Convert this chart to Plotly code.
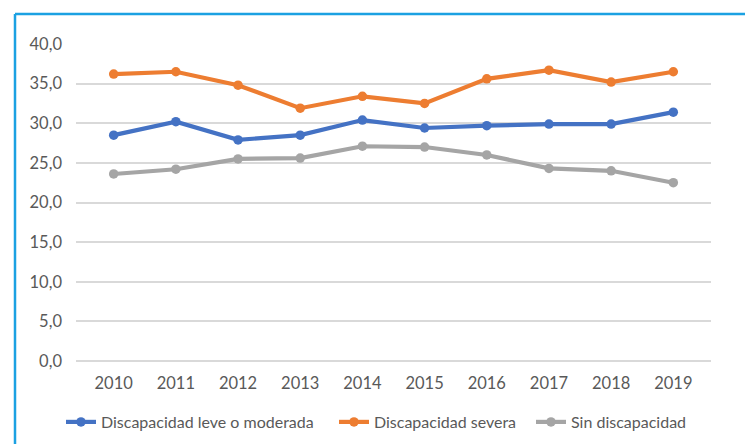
import plotly.graph_objects as go

years = ["2010", "2011", "2012", "2013", "2014", "2015", "2016", "2017", "2018", "2019"]
leve_moderada = [28.5, 30.2, 27.9, 28.5, 30.4, 29.4, 29.7, 29.9, 29.9, 31.4]
severa = [36.2, 36.5, 34.8, 31.9, 33.4, 32.5, 35.6, 36.7, 35.2, 36.5]
sin_discapacidad = [23.6, 24.2, 25.5, 25.6, 27.1, 27.0, 26.0, 24.3, 24.0, 22.5]

series_names = ["Discapacidad leve o moderada", "Discapacidad severa", "Sin discapacidad"]
colors = ["#4472C4", "#ED7D31", "#A5A5A5"]
y_ticks = [0, 5, 10, 15, 20, 25, 30, 35, 40]

font_family = "Lato, 'Liberation Sans Narrow', Roboto, sans-serif"
text_color = "#595959"

# page body has an 8px default margin, so the figure is sized/positioned to compensate
W, H = 745, 436
L, R, T, B = 68, 42, 36, 83
pw, ph = W - L - R, H - T - B

legend_ids = ["legend", "legend2", "legend3"]
legend_left_px = [61, 334, 531]   # screen px where each legend entry starts

fig = go.Figure()
for name, vals, col, lid in zip(series_names, [leve_moderada, severa, sin_discapacidad], colors, legend_ids):
    fig.add_trace(go.Scatter(
        x=years, y=vals, name=name, mode="lines+markers",
        line=dict(color=col, width=4.2),
        marker=dict(color=col, size=9.5),
        legend=lid,
    ))

legend_y = (H - B - (422 - 8)) / ph
legends = {}
for lid, lx in zip(legend_ids, legend_left_px):
    legends[lid] = dict(orientation="h", x=(lx - 8 - L) / pw, xanchor="left",
                        y=legend_y, yanchor="middle",
                        font=dict(size=16, color=text_color, family=font_family),
                        bgcolor="rgba(0,0,0,0)")

fig.update_layout(
    width=W, height=H,
    margin=dict(l=L, r=R, t=T, b=B, autoexpand=False),
    paper_bgcolor="white", plot_bgcolor="white",
    separators=", ",
    font=dict(family=font_family, size=16, color=text_color),
    showlegend=True,
    xaxis=dict(type="category", showgrid=False, showline=False, zeroline=False,
               ticks="", tickfont=dict(size=16.5, color=text_color), ticklabelstandoff=10,
               automargin=False),
    yaxis=dict(range=[0, 40], tickvals=y_ticks, tickformat=".1f", showgrid=True,
               gridcolor="#D9D9D9", gridwidth=1.5, zeroline=True, zerolinecolor="#D9D9D9",
               zerolinewidth=1.5, showline=False, ticks="",
               tickfont=dict(size=16.5, color=text_color), ticklabelstandoff=13,
               automargin=False),
    shapes=[
        dict(type="line", xref="paper", yref="paper", x0=(7 - L) / pw, x1=1.2,
             y0=(H - B - 6) / ph, y1=(H - B - 6) / ph,
             line=dict(color="#1BA1E2", width=2.5)),
        dict(type="line", xref="paper", yref="paper", x0=(7 - L) / pw, x1=(7 - L) / pw,
             y0=(H - B - 6) / ph, y1=-0.5,
             line=dict(color="#1BA1E2", width=2.5)),
    ],
    **legends,
)

fig.write_html("out.html")
